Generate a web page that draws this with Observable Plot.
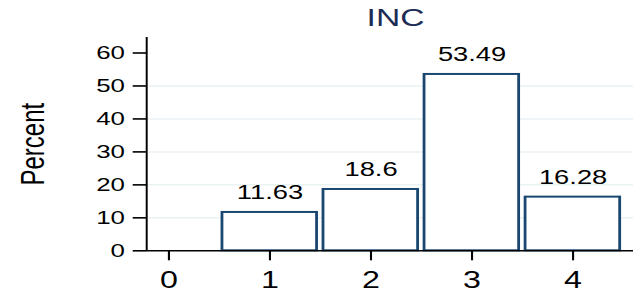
<!DOCTYPE html>
<html><head><meta charset="utf-8">
<script src="https://cdn.jsdelivr.net/npm/d3@7"></script>
<script src="https://cdn.jsdelivr.net/npm/@observablehq/plot@0.6"></script>
<style>html,body{margin:0;padding:0;background:#fff;} #chart svg{display:block}</style>
</head><body><div id="chart"></div>
<script>
const categories = [0, 1, 2, 3, 4];
const percents = [0, 11.63, 18.6, 53.49, 16.28];
const barLabels = ["0", "11.63", "18.6", "53.49", "16.28"];
const xTicks = [0, 1, 2, 3, 4];
const yTicks = [0, 10, 20, 30, 40, 50, 60];
const gridValues = [10, 20, 30, 40, 50];
const xDomain = [-0.22, 4.6];
const yDomain = [0, 64.7];
const title = "INC";
const yLabel = "Percent";

const data = categories
  .map((c, i) => ({c, p: percents[i], label: barLabels[i]}))
  .filter(d => d.p > 0);

const W = 633, H = 294;
const stretch = 1.4;
const w = W / stretch;

const plot = Plot.plot({
  width: w,
  height: H,
  marginLeft: 146 / stretch,
  marginRight: 0,
  marginTop: 37,
  marginBottom: 43.7,
  style: {fontFamily: "Liberation Sans, Arial, sans-serif", background: "#fff", color: "#000"},
  x: {domain: xDomain},
  y: {domain: yDomain},
  marks: [
    Plot.gridY(gridValues, {stroke: "#eaf2f3", strokeOpacity: 1, strokeWidth: 1.5}),
    Plot.rectY(data, {
      x1: d => d.c - 0.5, x2: d => d.c + 0.5, y1: 0, y2: "p",
      fill: "#fff", stroke: "#1a476f", strokeWidth: 2,
      insetLeft: 2.3, insetRight: 2.3
    }),
    Plot.ruleX([xDomain[0]], {stroke: "#000", strokeWidth: 1.4}),
    Plot.ruleY([0], {stroke: "#000", strokeWidth: 1.6}),
    Plot.axisY(yTicks, {tickSize: 9.5, tickPadding: 6, fontSize: 18.5, label: null, strokeWidth: 1.6, stroke: "#000"}),
    Plot.axisX(xTicks, {tickSize: 10, tickPadding: 11, fontSize: 23, label: null, strokeWidth: 1.5, stroke: "#000"}),
    Plot.text(data, {x: "c", y: "p", text: "label", dy: -13, lineAnchor: "bottom", fontSize: 19.5, fill: "#000"}),
    Plot.text([title], {frameAnchor: "top", dx: 3.8, dy: -12, lineAnchor: "bottom", fontSize: 24, fill: "#1c2c54"}),
    Plot.text([yLabel], {frameAnchor: "left", textAnchor: "middle", lineAnchor: "middle", rotate: -90, dx: -81.3, fontSize: 24, fill: "#000"})
  ]
});

plot.setAttribute("width", W);
plot.setAttribute("height", H);
plot.setAttribute("preserveAspectRatio", "none");
plot.style.width = W + "px";
plot.style.height = H + "px";
plot.style.maxWidth = "none";
document.getElementById("chart").appendChild(plot);
</script>
</body></html>
